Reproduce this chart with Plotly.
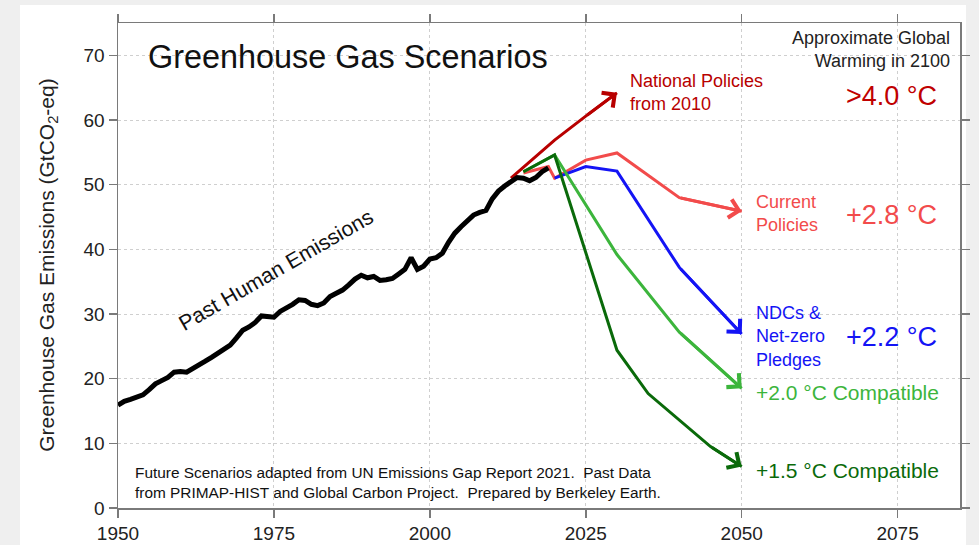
import plotly.graph_objects as go

FONT = "Liberation Sans, Arial, sans-serif"

# ---------------- data ----------------
hist_years = list(range(1950, 2020))
hist_values = [
    15.9, 16.5, 16.8, 17.1, 17.5, 18.3, 19.2, 19.7, 20.2, 21.0,  # 1950-59
    21.1, 21.0, 21.5, 22.2, 22.7, 23.3, 23.9, 24.4, 25.2, 26.3,  # 1960-69
    27.5, 28.0, 28.7, 29.7, 29.6, 29.5, 30.4, 30.9, 31.5, 32.2,  # 1970-79
    32.1, 31.5, 31.3, 31.7, 32.7, 33.2, 33.7, 34.5, 35.4, 36.0,  # 1980-89
    35.6, 35.8, 35.2, 35.3, 35.5, 36.2, 36.9, 38.7, 36.9, 37.4,  # 1990-99
    38.5, 38.7, 39.4, 41.1, 42.5, 43.5, 44.5, 45.3, 45.7, 46.0,  # 2000-09
    47.8, 49.0, 49.8, 50.5, 51.1, 51.0, 50.6, 51.1, 52.0, 52.6,  # 2010-19
]

natl_years = [2013, 2015, 2020, 2025, 2030]
natl_values = [51.0, 52.7, 56.9, 60.6, 64.2]

curr_years = [2015, 2019, 2020, 2025, 2030, 2040, 2050]
curr_values = [51.8, 52.8, 51.0, 53.8, 54.9, 48.0, 45.9]

ndc_years = [2020, 2025, 2030, 2040, 2050]
ndc_values = [51.0, 52.8, 52.1, 37.2, 26.9]

c20_years = [2015, 2020, 2030, 2040, 2050]
c20_values = [52.0, 54.6, 39.2, 27.2, 18.5]

c15_years = [2015, 2020, 2030, 2035, 2045, 2050]
c15_values = [52.0, 54.6, 24.4, 17.7, 9.5, 6.4]

x_ticks = [1950, 1975, 2000, 2025, 2050, 2075]
y_ticks = [0, 10, 20, 30, 40, 50, 60, 70]

# ---------------- styles ----------------
C_NATL = "#b80000"
C_CURR = "#f24b4b"
C_NDC = "#1414f5"
C_20 = "#3cb53c"
C_15 = "#0a6a0a"

fig = go.Figure()

scen = [
    (curr_years, curr_values, C_CURR),
    (ndc_years, ndc_values, C_NDC),
    (c20_years, c20_values, C_20),
    (c15_years, c15_values, C_15),
    (natl_years, natl_values, C_NATL),
]
for xs, ys, col in scen:
    fig.add_trace(go.Scatter(x=xs, y=ys, mode="lines",
                             line=dict(color=col, width=3), showlegend=False,
                             hoverinfo="skip"))

fig.add_trace(go.Scatter(x=hist_years, y=hist_values, mode="lines",
                         line=dict(color="black", width=5), showlegend=False,
                         hoverinfo="skip"))

annotations = []
# arrowheads on the last segment of each scenario
for xs, ys, col in scen:
    annotations.append(dict(
        x=xs[-1], y=ys[-1], ax=xs[-2], ay=ys[-2],
        xref="x", yref="y", axref="x", ayref="y",
        text="", showarrow=True, arrowhead=4, arrowsize=1.2,
        arrowwidth=3, arrowcolor=col, standoff=0, startstandoff=0))

def txt(x, y, text, size, color, xanchor="left", align="left", **kw):
    d = dict(x=x, y=y, xref="x", yref="y", text=text, showarrow=False,
             xanchor=xanchor, yanchor="middle", align=align,
             font=dict(family=FONT, size=size, color=color))
    d.update(kw)
    annotations.append(d)

txt(1954.5, 69.7, "Greenhouse Gas Scenarios", 32.4, "#111111")
txt(2083.7, 70.9, "Approximate Global<br>Warming in 2100", 18, "#222222",
    xanchor="right", align="right")
txt(2081.7, 63.7, ">4.0 °C", 27, "#c00000", xanchor="right")
txt(2031.7, 64.2, "National Policies<br>from 2010", 18, C_NATL)
txt(2051.9, 45.6, "Current<br>Policies", 18, C_CURR)
txt(2081.7, 45.3, "+2.8 °C", 27, C_CURR, xanchor="right")
txt(2051.9, 26.5, "NDCs &amp;<br>Net-zero<br>Pledges", 18, C_NDC)
txt(2081.7, 26.5, "+2.2 °C", 27, C_NDC, xanchor="right")
txt(2051.9, 17.9, "+2.0 °C Compatible", 21, C_20)
txt(2051.9, 5.8, "+1.5 °C Compatible", 21, C_15)
txt(1952.4, 3.9,
    "Future Scenarios adapted from UN Emissions Gap Report 2021.\u00a0 Past Data<br>"
    "from PRIMAP-HIST and Global Carbon Project.\u00a0 Prepared by Berkeley Earth.",
    15.4, "#111111")
txt(1975.4, 36.8, "Past Human Emissions", 21.3, "#111111", xanchor="center",
    textangle=-30)

# y-axis title
annotations.append(dict(
    x=-0.084, y=0.5, xref="paper", yref="paper",
    text="Greenhouse Gas Emissions (GtCO<sub>2</sub>-eq)", showarrow=False,
    textangle=-90, xanchor="center", yanchor="middle",
    font=dict(family=FONT, size=21, color="#222222")))

axis_common = dict(
    showgrid=True, gridcolor="#cfcfcf", griddash="dot", gridwidth=1,
    showline=True, linecolor="#7a7a7a", linewidth=1.5, mirror="ticks",
    ticks="outside", ticklen=8, tickcolor="#7a7a7a", tickwidth=1.5,
    tickfont=dict(family=FONT, size=19, color="#222222"),
    zeroline=False, fixedrange=True, automargin=False,
)

fig.update_layout(
    width=979, height=545,
    margin=dict(l=118, r=19, t=23, b=37, autoexpand=False),
    paper_bgcolor="#efefef",
    plot_bgcolor="white",
    xaxis=dict(range=[1950, 2085], tickvals=x_ticks, **axis_common),
    yaxis=dict(range=[0, 75], tickvals=y_ticks, **axis_common),
    annotations=annotations,
    shapes=[dict(type="rect", xref="paper", yref="paper",
                 x0=-0.1164, x1=1.0071, y0=-0.08, y1=1.037,
                 fillcolor="white", line=dict(width=0), layer="below")],
    font=dict(family=FONT),
)

fig.write_html(
    "out.html",
    config={"displayModeBar": False, "staticPlot": True},
    post_script="document.body.style.margin='0px';"
                "document.body.style.background='#efefef';"
                "document.body.style.overflow='hidden';",
)
